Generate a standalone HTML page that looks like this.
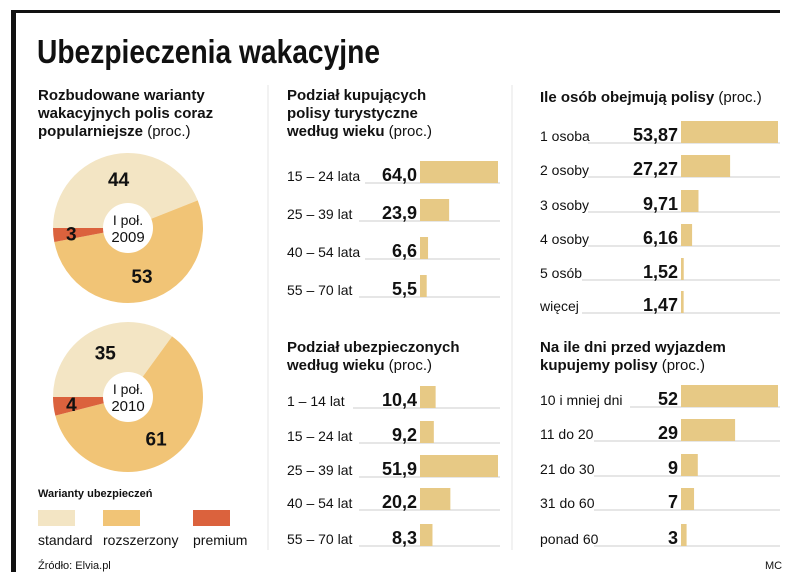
<!DOCTYPE html>
<html><head><meta charset="utf-8"><style>
body{margin:0;background:#fff;}
svg{display:block;font-family:"Liberation Sans",sans-serif;}
</style></head><body>
<svg id="s" width="805" height="572" viewBox="0 0 805 572">
<rect x="0" y="0" width="805" height="572" fill="#fff"/>
<rect x="12" y="10" width="768" height="3" fill="#111"/>
<rect x="11" y="10" width="5" height="562" fill="#111"/>
<line x1="268" y1="85" x2="268" y2="550" stroke="#eee" stroke-width="1.5"/>
<line x1="512" y1="85" x2="512" y2="550" stroke="#eee" stroke-width="1.5"/>
<text x="37" y="63" font-size="33" font-weight="bold" fill="#111" textLength="343" lengthAdjust="spacingAndGlyphs">Ubezpieczenia wakacyjne</text>
<g font-size="15" fill="#111">
<text x="38" y="100" font-weight="bold">Rozbudowane warianty</text>
<text x="38" y="118" font-weight="bold">wakacyjnych polis coraz</text>
<text x="38" y="136"><tspan font-weight="bold">popularniejsze</tspan> (proc.)</text>
</g>
<g font-size="15" fill="#111">
<text x="287" y="100" font-weight="bold">Podział kupujących</text>
<text x="287" y="118" font-weight="bold">polisy turystyczne</text>
<text x="287" y="136"><tspan font-weight="bold">według wieku</tspan> (proc.)</text>
</g>
<g font-size="15" fill="#111">
<text x="287" y="352" font-weight="bold">Podział ubezpieczonych</text>
<text x="287" y="370"><tspan font-weight="bold">według wieku</tspan> (proc.)</text>
</g>
<g font-size="15" fill="#111">
<text x="540" y="102"><tspan font-weight="bold">Ile osób obejmują polisy</tspan> (proc.)</text>
</g>
<g font-size="15" fill="#111">
<text x="540" y="352" font-weight="bold">Na ile dni przed wyjazdem</text>
<text x="540" y="370"><tspan font-weight="bold">kupujemy polisy</tspan> (proc.)</text>
</g>
<g id="donuts"></g>
<g id="bars"></g>
<text x="38" y="497" font-size="11" font-weight="bold" fill="#111">Warianty ubezpieczeń</text>
<rect x="38" y="510" width="37" height="16" fill="#f3e5c4"/>
<rect x="103" y="510" width="37" height="16" fill="#f1c476"/>
<rect x="193" y="510" width="37" height="16" fill="#db623d"/>
<g font-size="14" fill="#111">
<text x="38" y="545">standard</text>
<text x="103" y="545">rozszerzony</text>
<text x="193" y="545">premium</text>
</g>
<text x="38" y="569" font-size="11" fill="#111">Źródło: Elvia.pl</text>
<text x="765" y="569" font-size="11" fill="#111">MC</text>
</svg>
<script>
const NS="http://www.w3.org/2000/svg";
const donutYears=["2009","2010"];
const donutStandard=[44,35];
const donutRozszerzony=[53,61];
const donutPremium=[3,4];
const ageBuyLabels=["15 – 24 lata","25 – 39 lat","40 – 54 lata","55 – 70 lat"];
const ageBuyValues=[64.0,23.9,6.6,5.5];
const ageInsLabels=["1 – 14 lat","15 – 24 lat","25 – 39 lat","40 – 54 lat","55 – 70 lat"];
const ageInsValues=[10.4,9.2,51.9,20.2,8.3];
const personLabels=["1 osoba","2 osoby","3 osoby","4 osoby","5 osób","więcej"];
const personValues=[53.87,27.27,9.71,6.16,1.52,1.47];
const daysLabels=["10 i mniej dni","11 do 20","21 do 30","31 do 60","ponad 60"];
const daysValues=[52,29,9,7,3];

function mk(tag,attrs,parent){const e=document.createElementNS(NS,tag);for(const k in attrs)e.setAttribute(k,attrs[k]);parent.appendChild(e);return e;}
const colors=["#f3e5c4","#f1c476","#db623d"];
const names=["standard","rozszerzony","premium"];
const dg=document.getElementById("donuts");
const centers=[[128,228],[128,397]];
const starts=[270,270];
function pt(cx,cy,r,a){const t=(a-90)*Math.PI/180;return [cx+r*Math.cos(t),cy+r*Math.sin(t)];}
donutYears.forEach((yr,i)=>{
  const [cx,cy]=centers[i];const R=75;
  const vals=[donutStandard[i],donutRozszerzony[i],donutPremium[i]];
  const tot=vals.reduce((a,b)=>a+b,0);
  let a=starts[i];
  vals.forEach((v,j)=>{
    const sw=v/tot*360;const a2=a+sw;
    const p1=pt(cx,cy,R,a),p2=pt(cx,cy,R,a2);
    const p=mk("path",{d:`M${cx},${cy}L${p1[0]},${p1[1]}A${R},${R} 0 ${sw>180?1:0} 1 ${p2[0]},${p2[1]}Z`,fill:colors[j]},dg);
    
    
    const mid=a+sw/2;const lr=j==2?57:50;const lp=pt(cx,cy,lr,mid);
    const t=mk("text",{x:lp[0],y:lp[1]+7,"text-anchor":"middle","font-size":"19","font-weight":"bold",fill:"#111"},dg);
    t.textContent=v;
    
    
    a=a2;
  });
  const c=mk("circle",{cx:cx,cy:cy,r:25,fill:"#fff"},dg);
  
  
  const t1=mk("text",{x:cx,y:cy-3,"text-anchor":"middle","font-size":"14",fill:"#111"},dg);t1.textContent="I poł.";
  
  
  const t2=mk("text",{x:cx,y:cy+14,"text-anchor":"middle","font-size":"15",fill:"#111"},dg);t2.textContent=yr;
  
  
});
const bg=document.getElementById("bars");
function fmt(id,v){return v.toFixed(id==="persons"?2:(id==="days"?0:1)).replace(".",",");}
function barChart(id,labels,values,lx,bx,bend,maxPx,maxV,baselines){
  const sc=v=>v/maxV*maxPx;
  labels.forEach((lab,i)=>{
    const by=baselines[i];
    const l=mk("line",{x1:lx+(lab.length*6.0)+6,y1:by,x2:bend,y2:by,stroke:"#bbb","stroke-width":"0.8"},bg);
    
    
    const t=mk("text",{x:lx,y:by-2,"font-size":"14",fill:"#111"},bg);t.textContent=lab;
    
    
    const w=sc(values[i]);
    const r=mk("rect",{x:bx,y:by-22,width:Math.max(w,2),height:22,fill:"#e7c985"},bg);
    
    
    const v=mk("text",{x:bx-3,y:by-2,"text-anchor":"end","font-size":"18","font-weight":"bold",fill:"#111"},bg);
    v.textContent=fmt(id,values[i]);
    
    
  });
}
barChart("age-buyers",ageBuyLabels,ageBuyValues,287,420,500,78,64.0,[183,221,259,297]);
barChart("age-insured",ageInsLabels,ageInsValues,287,420,500,78,51.9,[408,443,477,510,546]);
barChart("persons",personLabels,personValues,540,681,780,97,53.87,[143,177,212,246,280,313]);
barChart("days",daysLabels,daysValues,540,681,780,97,52,[407,441,476,510,546]);
</script>
</body></html>
